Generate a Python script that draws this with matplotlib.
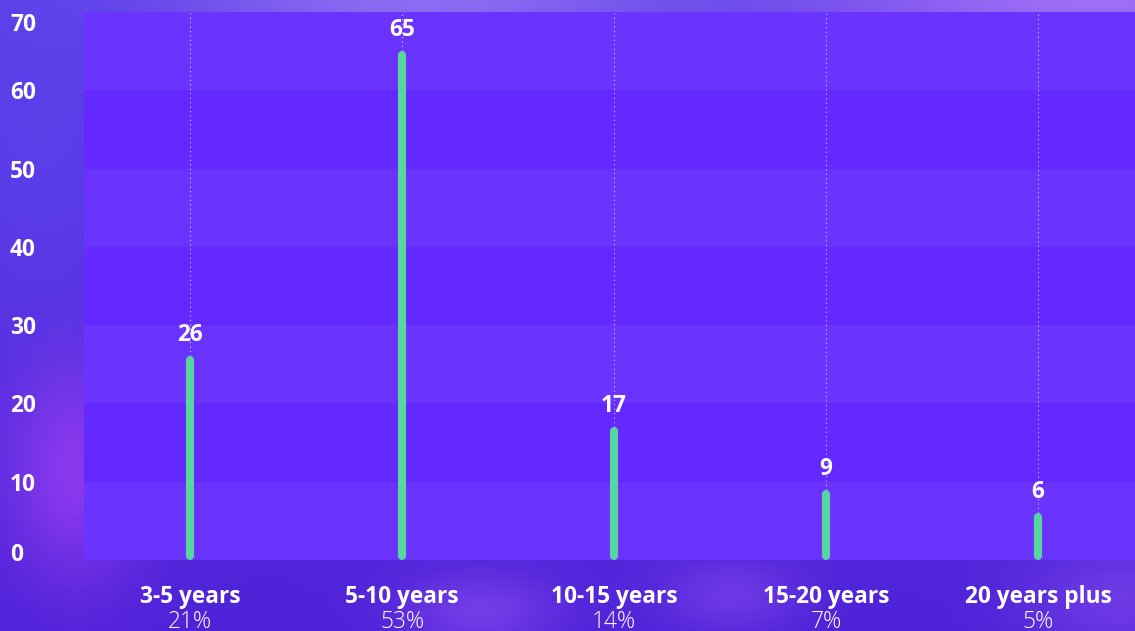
# Years of experience distribution

import numpy as np
import matplotlib.pyplot as plt
from matplotlib.colors import to_rgb

CATEGORIES = ["3-5 years", "5-10 years", "10-15 years", "15-20 years", "20 years plus"]
COUNTS = [26, 65, 17, 9, 6]
SHARES = ["21%", "53%", "14%", "7%", "5%"]
Y_TICKS = [0, 10, 20, 30, 40, 50, 60, 70]

FONT = ["Open Sans", "DejaVu Sans"]
FS = 16.3
BAR_COLOR = "#57d6a0"
BAND_LIGHT = "#6b33fe"
BAND_DARK = "#6429fe"


def make_background(w, h):
    yy, xx = np.mgrid[0:h, 0:w]
    img = np.zeros((h, w, 3))
    base_top = np.array(to_rgb("#5a3ce6"))
    base_bot = np.array(to_rgb("#4f22d8"))
    t = (yy / h)[..., None]
    img[:] = base_top * (1 - t) + base_bot * t

    def glow(cx, cy, rx, ry, color, strength):
        d = ((xx - cx) / rx) ** 2 + ((yy - cy) / ry) ** 2
        a = (strength * np.exp(-d))[..., None]
        return a, np.array(to_rgb(color))

    for cx, cy, rx, ry, col, s in [
        (75, 470, 70, 110, "#9a3cf2", 0.8),
        (420, 0, 250, 40, "#9a78f6", 0.8),
        (1100, 0, 300, 40, "#a674f8", 0.9),
        (480, 610, 80, 40, "#8a4cf0", 0.6),
        (730, 595, 70, 40, "#8a4cf0", 0.5),
        (1120, 600, 100, 60, "#8048ec", 0.6),
        (40, 120, 90, 200, "#5e48f0", 0.5),
    ]:
        a, c = glow(cx, cy, rx, ry, col, s)
        img = img * (1 - a) + c * a
    return img


def plot_experience():
    fig = plt.figure(figsize=(11.35, 6.31), dpi=100)
    bg = fig.add_axes([0, 0, 1, 1])
    bg.imshow(make_background(1135, 631), aspect="auto")
    bg.axis("off")

    ax = fig.add_axes([84 / 1135, 71 / 631, 1051 / 1135, 548 / 631])
    ax.set_xlim(-0.5, -0.5 + 1051 / 212)
    ax.set_ylim(0, 70)

    for k in range(7):
        ax.axhspan(Y_TICKS[k], Y_TICKS[k + 1],
                   color=BAND_LIGHT if k % 2 == 0 else BAND_DARK, lw=0, zorder=0)

    cap = 4 / (548 / 70)  # round-cap radius in data units
    for i, v in enumerate(COUNTS):
        ax.plot([i, i], [v, 70], color="white", lw=0.8, ls=(0, (1, 3)),
                alpha=0.7, zorder=1)
        ax.plot([i, i], [cap, v - cap], color=BAR_COLOR, lw=5.8,
                solid_capstyle="round", zorder=3, clip_on=False)
        ax.annotate(str(v), (i, v), xytext=(0, 15), textcoords="offset pixels",
                    ha="center", va="baseline", color="white", fontsize=FS,
                    fontweight="bold", family=FONT, zorder=4)
        ax.annotate(CATEGORIES[i], (i, 0), xytext=(0, -43), textcoords="offset pixels",
                    ha="center", va="baseline", color="white", fontsize=FS,
                    fontweight="bold", family=FONT, annotation_clip=False)
        ax.annotate(SHARES[i], (i, 0), xytext=(0, -68), textcoords="offset pixels",
                    ha="center", va="baseline", color="white", fontsize=FS,
                    fontweight="light", family=FONT, annotation_clip=False)

    ax.set_xticks([])
    ax.set_yticks([])
    for t in Y_TICKS:
        off = -19 if t == 70 else (-1 if t == 0 else -9)
        ax.annotate(str(t), (0, t), xycoords=("axes fraction", "data"),
                    xytext=(-74, off), textcoords="offset pixels",
                    ha="left", va="baseline", color="white", fontsize=FS,
                    fontweight="bold", family=FONT, annotation_clip=False)

    for s in ax.spines.values():
        s.set_visible(False)

    fig.savefig("out.png", dpi=100)


if __name__ == "__main__":
    plot_experience()
